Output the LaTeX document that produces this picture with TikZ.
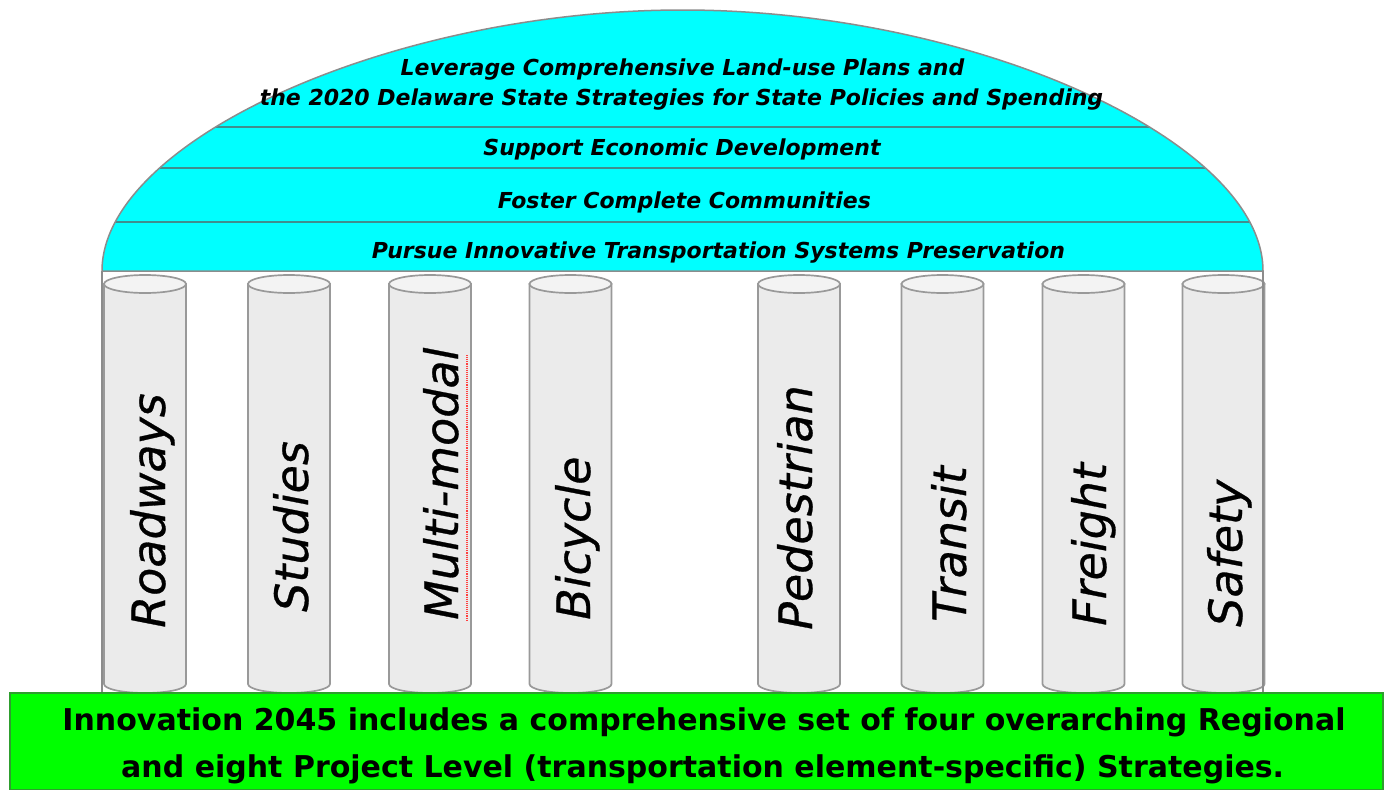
\documentclass[tikz,border=0pt]{standalone}
\usepackage{fontspec}
\setmainfont{DejaVu Sans}
\newfontfamily\pillarfont{DejaVu Sans}[FakeBold=0.6]
\definecolor{domecyan}{HTML}{00FFFF}
\definecolor{domeline}{HTML}{3F8F8F}
\definecolor{domeedge}{HTML}{8C8C8C}
\definecolor{pillarfill}{HTML}{EBEBEB}
\definecolor{pillartop}{HTML}{F3F3F3}
\definecolor{pillaredge}{HTML}{999999}
\definecolor{basegreen}{HTML}{00FF00}
\definecolor{baseedge}{HTML}{2E9E2E}
\begin{document}
\begin{tikzpicture}[x=1pt,y=-1pt,
  pillarbody/.style={fill=pillarfill,draw=pillaredge,line width=1.7pt},
  pillarcap/.style={fill=pillartop,draw=pillaredge,line width=1.7pt},
  dometext/.style={inner sep=0pt,anchor=base,font=\fontsize{22}{26}\selectfont\bfseries\itshape},
  pillartext/.style={inner sep=0pt,anchor=base west,rotate=90,font=\fontsize{46}{50}\selectfont\pillarfont\itshape},
  basetext/.style={inner sep=0pt,anchor=base,font=\fontsize{30}{36}\selectfont\bfseries}]
\useasboundingbox (0,0) rectangle (1385,790);
\fill[white] (0,0) rectangle (1385,790);
% pillars
\foreach \cx in {145,289,430,570.5,799,942.5,1083.5,1223.5}{
  \filldraw[pillarbody] (\cx-41,284) -- (\cx-41,684)
     arc[start angle=180,end angle=0,x radius=41,y radius=9] -- (\cx+41,284) -- cycle;
  \filldraw[pillarcap] (\cx,284) ellipse[x radius=41,y radius=9];
}
% side lines
\draw[domeedge,line width=1.5pt] (102,271) -- (102,693);
\draw[domeedge,line width=1.5pt] (1263,271) -- (1263,693);
% dome
\fill[domecyan] (102,271) .. controls (102,140.5) and (392,10) .. (682.5,10)
   .. controls (973,10) and (1263,140.5) .. (1263,271) -- cycle;
\begin{scope}
\clip (102,271) .. controls (102,140.5) and (392,10) .. (682.5,10)
   .. controls (973,10) and (1263,140.5) .. (1263,271) -- cycle;
\draw[domeline,line width=1.8pt] (0,127) -- (1385,127);
\draw[domeline,line width=1.8pt] (0,168) -- (1385,168);
\draw[domeline,line width=1.8pt] (0,222) -- (1385,222);
\end{scope}
\draw[domeedge,line width=1.5pt] (102,271) .. controls (102,140.5) and (392,10) .. (682.5,10)
   .. controls (973,10) and (1263,140.5) .. (1263,271) -- cycle;
% dome texts
\node[dometext] (lev1) at (682.5,75.5) {Leverage Comprehensive Land-use Plans and};
\node[dometext] (lev2) at (681.5,105) {the 2020 Delaware State Strategies for State Policies and Spending};
\node[dometext] (econ) at (682,155) {Support Economic Development};
\node[dometext] (comm) at (684.5,208) {Foster Complete Communities};
\node[dometext] (pres) at (718.5,258) {Pursue Innovative Transportation Systems Preservation};
% pillar texts
\node[pillartext] (roadways) at (165,628) {Roadways};
\node[pillartext] (studies) at (308,612) {Studies};
\node[pillartext] (multimodal) at (458,620) {Multi-modal};
\node[pillartext] (bicycle) at (590,620) {Bicycle};
\node[pillartext] (pedestrian) at (812,630) {Pedestrian};
\node[pillartext] (transit) at (966,622) {Transit};
\node[pillartext] (freight) at (1106,626) {Freight};
\node[pillartext] (safety) at (1242,627) {Safety};
\draw[red!75,densely dotted,line width=1.1pt] (467,355) -- (467,620);
% base
\filldraw[fill=basegreen,draw=baseedge,line width=1.3pt] (10,693) rectangle (1383,790);
\node[basetext] (base1) at (704,730) {Innovation 2045 includes a comprehensive set of four overarching Regional};
\node[basetext] (base2) at (702.7,777) {and eight Project Level (transportation element-specific) Strategies.};
\end{tikzpicture}
\end{document}
